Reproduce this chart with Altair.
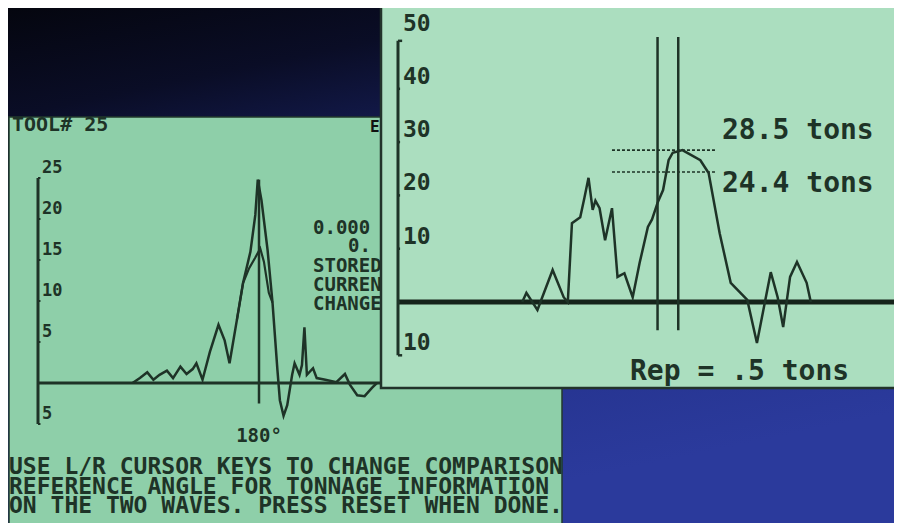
import altair as alt
import pandas as pd

# ---------------- data ----------------
# left screen: crank angle (deg) vs tonnage (tons), current wave
left_wave = [(77, 0), (83, 0.6), (89, 1.3), (94, 0.4), (99, 1.0), (105, 1.5), (110, 0.6),
             (116, 2.0), (121, 1.1), (126, 1.7), (129, 2.4), (134, 0.4), (140, 3.8),
             (147, 7.1), (152, 5.2), (156, 2.4), (162, 7.7), (167, 12.2), (173, 16.0),
             (177, 20.5), (179, 24.8), (182, 22.3), (187, 16.2), (191, 9.8), (195, 1.6),
             (197, -2.1), (200, -4.0), (203, -2.7), (207, 1.0), (209, 2.4), (213, 1.0),
             (215, 2.2), (217, 6.8), (219, 1.0), (224, 1.8), (227, 0.6), (234, 0.4),
             (243, 0.1), (250, 1.1), (254, -0.2), (260, -1.5), (266, -1.6), (272, -0.6),
             (276, 0)]
# left screen: stored wave where it differs (lower peak)
left_stored = [(162, 7.7), (167, 12.2), (172, 14.0), (177, 15.3), (181, 16.4),
               (184, 14.8), (188, 11.0), (191, 9.8)]
left_ticks = [25, 20, 15, 10, 5, -5]
left_tick_labels = ["25", "20", "15", "10", "5", "5"]
left_cursor = 180
left_cursor_range = (-2.5, 24.8)

# right screen: angle (deg) vs tonnage (tons)
right_wave = [(90, 0), (93, 1.7), (101, -1.5), (112, 6.0), (120, 0.9), (123, 0),
              (126, 14.8), (132, 15.9), (135, 19.5), (138, 23.3), (141, 17.3), (143, 19.0),
              (146, 17.6), (150, 11.6), (155, 17.6), (159, 4.7), (164, 5.4), (170, 0.9),
              (175, 7.3), (181, 14.1), (184, 15.5), (188, 18.6), (192, 21.0), (196, 26.6),
              (199, 28.0), (206, 28.5), (219, 26.6), (225, 24.2), (233, 12.9), (241, 3.6),
              (253, 0.4), (260, -7.7), (270, 5.6), (275, 0.9), (279, -4.7), (284, 4.7),
              (289, 7.5), (296, 3.6), (299, 0)]
right_ticks = [50, 40, 30, 20, 10, -10]
right_tick_labels = ["50", "40", "30", "20", "10", "10"]
right_cursors = [188, 203]
right_cursor_range = (-5.3, 49.7)
right_levels = [28.5, 24.4]
right_level_labels = ["28.5 tons", "24.4 tons"]
right_level_span = (155, 230)

left_notes = ["0.000", "0.", "STORED", "CURRENT", "CHANGE"]
bottom_lines = ["USE L/R CURSOR KEYS TO CHANGE COMPARISON",
                "REFERENCE ANGLE FOR TONNAGE INFORMATION",
                "ON THE TWO WAVES. PRESS RESET WHEN DONE."]

# ---------------- styling ----------------
W, H = 886, 515
INK = "#1e3327"
MONO = "DejaVu Sans Mono"
LEFT_BG = "#8ecfa9"
RIGHT_BG = "#abdebf"

# left screen scales (placed inside the left panel)
lx = alt.Scale(domain=[0, 360], range=[30, 472])
ly = alt.Scale(domain=[-5, 25], range=[416, 170])
# right screen scales
rx = alt.Scale(domain=[0, 360], range=[390, 887])
ry = alt.Scale(domain=[-10, 50], range=[347.3, 27.5])
# layout scale for free-standing screen text
px = alt.Scale(domain=[0, H], range=[0, H])

one = pd.DataFrame({"k": [0]})

bg = alt.Chart(one).mark_rect(
    color=alt.Gradient(
        gradient="linear", x1=0, y1=0, x2=0.35, y2=1,
        stops=[alt.GradientStop(color="#04050c", offset=0),
               alt.GradientStop(color="#0a0d26", offset=0.2),
               alt.GradientStop(color="#1f2c80", offset=0.55),
               alt.GradientStop(color="#2b3a9c", offset=1)])
).encode(x=alt.value(-10), x2=alt.value(W + 10), y=alt.value(-10), y2=alt.value(H + 10))

left_panel = alt.Chart(one).mark_rect(color=LEFT_BG, stroke="#223a2c", strokeWidth=1.5).encode(
    x=alt.value(1), x2=alt.value(554), y=alt.value(109), y2=alt.value(H + 10))

right_panel = alt.Chart(one).mark_rect(color=RIGHT_BG, stroke="#22332a", strokeWidth=2.5).encode(
    x=alt.value(373), x2=alt.value(W + 10), y=alt.value(-4), y2=alt.value(380))

# ---- left screen content ----
lw = pd.DataFrame(left_wave, columns=["deg", "tons"])
ls = pd.DataFrame(left_stored, columns=["deg", "tons"])
l_axis = alt.Chart(pd.DataFrame({"x": [0], "y": [-5], "y2": [25]})).mark_rule(
    color=INK, strokeWidth=3).encode(
    x=alt.X("x:Q", scale=lx, axis=None), y=alt.Y("y:Q", scale=ly, axis=None), y2="y2")
l_zero = alt.Chart(pd.DataFrame({"x": [0], "x2": [360], "y": [0]})).mark_rule(
    color=INK, strokeWidth=3).encode(
    x=alt.X("x:Q", scale=lx, axis=None), x2="x2", y=alt.Y("y:Q", scale=ly, axis=None))
l_tick_df = pd.DataFrame({"x": [0] * len(left_ticks), "x2": [2] * len(left_ticks),
                          "y": left_ticks, "lab": left_tick_labels})
l_tickmarks = alt.Chart(l_tick_df).mark_rule(color=INK, strokeWidth=2).encode(
    x=alt.X("x:Q", scale=lx, axis=None), x2="x2", y=alt.Y("y:Q", scale=ly, axis=None))
l_ticklabels = alt.Chart(l_tick_df).mark_text(
    font=MONO, fontSize=17, fontWeight="bold", color=INK, align="left", baseline="middle",
    dx=4, dy=-10).encode(
    x=alt.X("x:Q", scale=lx, axis=None), y=alt.Y("y:Q", scale=ly, axis=None), text="lab:N")
l_cursor = alt.Chart(pd.DataFrame({"x": [left_cursor], "y": [left_cursor_range[0]],
                                   "y2": [left_cursor_range[1]]})).mark_rule(
    color=INK, strokeWidth=2.5).encode(
    x=alt.X("x:Q", scale=lx, axis=None), y=alt.Y("y:Q", scale=ly, axis=None), y2="y2")
l_line = alt.Chart(lw).mark_line(color=INK, strokeWidth=2.5).encode(
    x=alt.X("deg:Q", scale=lx, axis=None), y=alt.Y("tons:Q", scale=ly, axis=None))
l_line2 = alt.Chart(ls).mark_line(color=INK, strokeWidth=2.2).encode(
    x=alt.X("deg:Q", scale=lx, axis=None), y=alt.Y("tons:Q", scale=ly, axis=None))
l_deg = alt.Chart(pd.DataFrame({"x": [left_cursor], "y": [-5], "lab": ["180°"]})).mark_text(
    font=MONO, fontSize=19, fontWeight="bold", color=INK, align="center", baseline="middle",
    dy=12).encode(
    x=alt.X("x:Q", scale=lx, axis=None), y=alt.Y("y:Q", scale=ly, axis=None), text="lab:N")

tool = alt.Chart(pd.DataFrame({"t": ["TOOL# 25"]})).mark_text(
    font=MONO, fontSize=20, fontWeight="bold", color=INK, align="left", baseline="middle").encode(
    x=alt.value(4), y=alt.value(117), text="t:N")
blk = alt.Chart(pd.DataFrame({"t": ["E"]})).mark_text(
    font=MONO, fontSize=16, fontWeight="bold", color="#111", align="left", baseline="middle").encode(
    x=alt.value(362), y=alt.value(119), text="t:N")
notes_df = pd.DataFrame({"t": left_notes, "x": [305, 340, 305, 305, 305],
                         "y": [220, 238, 258, 277, 296]})
notes = alt.Chart(notes_df).mark_text(
    font=MONO, fontSize=19, fontWeight="bold", color=INK, align="left", baseline="middle").encode(
    x=alt.X("x:Q", scale=alt.Scale(domain=[0, W], range=[0, W]), axis=None),
    y=alt.Y("y:Q", scale=px, axis=None), text="t:N")
bottom_df = pd.DataFrame({"t": bottom_lines, "y": [459, 478.5, 498]})
bottom = alt.Chart(bottom_df).mark_text(
    font=MONO, fontSize=23, fontWeight="bold", color=INK, align="left", baseline="middle").encode(
    x=alt.value(1), y=alt.Y("y:Q", scale=px, axis=None), text="t:N")

# ---- right screen content ----
rw = pd.DataFrame(right_wave, columns=["deg", "tons"])
r_axis = alt.Chart(pd.DataFrame({"x": [0], "y": [-10], "y2": [49]})).mark_rule(
    color=INK, strokeWidth=3).encode(
    x=alt.X("x:Q", scale=rx, axis=None), y=alt.Y("y:Q", scale=ry, axis=None), y2="y2")
r_tick_df = pd.DataFrame({"x": [0] * len(right_ticks), "y": right_ticks, "lab": right_tick_labels})
r_tickmarks = alt.Chart(pd.DataFrame({"x": [0, 0, 0, 0, 0, 0, 0], "x2": [3, 1.5, 1.5, 1.5, 1.5, 1.5, 3],
                                      "y": [49, 40, 30, 20, 10, 0, -10]})).mark_rule(
    color=INK, strokeWidth=2.5).encode(
    x=alt.X("x:Q", scale=rx, axis=None), x2="x2", y=alt.Y("y:Q", scale=ry, axis=None))
r_ticklabels = alt.Chart(r_tick_df).mark_text(
    font=MONO, fontSize=23, fontWeight="bold", color=INK, align="left", baseline="middle",
    dx=5, dy=-12).encode(
    x=alt.X("x:Q", scale=rx, axis=None), y=alt.Y("y:Q", scale=ry, axis=None), text="lab:N")
r_zero = alt.Chart(pd.DataFrame({"x": [0], "x2": [360], "y": [0]})).mark_rule(
    color="#16241b", strokeWidth=5).encode(
    x=alt.X("x:Q", scale=rx, axis=None), x2="x2", y=alt.Y("y:Q", scale=ry, axis=None))
r_cur = alt.Chart(pd.DataFrame({"x": right_cursors, "y": [right_cursor_range[0]] * 2,
                                "y2": [right_cursor_range[1]] * 2})).mark_rule(
    color=INK, strokeWidth=2.5).encode(
    x=alt.X("x:Q", scale=rx, axis=None), y=alt.Y("y:Q", scale=ry, axis=None), y2="y2")
lev_df = pd.DataFrame({"x": [right_level_span[0]] * 2, "x2": [right_level_span[1]] * 2,
                       "y": right_levels, "lab": right_level_labels})
r_levels = alt.Chart(lev_df).mark_rule(color=INK, strokeWidth=1.6, strokeDash=[3, 2]).encode(
    x=alt.X("x:Q", scale=rx, axis=None), x2="x2", y=alt.Y("y:Q", scale=ry, axis=None))
r_line = alt.Chart(rw).mark_line(color=INK, strokeWidth=2.5).encode(
    x=alt.X("deg:Q", scale=rx, axis=None), y=alt.Y("tons:Q", scale=ry, axis=None))
r_lev_text = alt.Chart(pd.DataFrame({"lab": right_level_labels, "y": [123, 176]})).mark_text(
    font=MONO, fontSize=28, fontWeight="bold", color=INK, align="left", baseline="middle").encode(
    x=alt.value(714), y=alt.Y("y:Q", scale=px, axis=None), text="lab:N")
rep = alt.Chart(pd.DataFrame({"t": ["Rep = .5 tons"]})).mark_text(
    font=MONO, fontSize=28, fontWeight="bold", color=INK, align="left", baseline="middle").encode(
    x=alt.value(622), y=alt.value(364), text="t:N")

chart = alt.layer(
    bg, left_panel,
    l_zero, l_axis, l_tickmarks, l_ticklabels, l_line2, l_line, l_cursor, l_deg,
    tool, blk, notes, bottom,
    right_panel,
    r_zero, r_axis, r_tickmarks, r_ticklabels, r_levels, r_line, r_cur, r_lev_text, rep,
).resolve_scale(x="independent", y="independent").properties(
    width=W, height=H, padding=0, autosize=alt.AutoSizeParams(type="none"),
    background="#05060f"
).configure_view(stroke=None)

chart.save("out.html", embed_options={"renderer": "svg", "actions": False})
